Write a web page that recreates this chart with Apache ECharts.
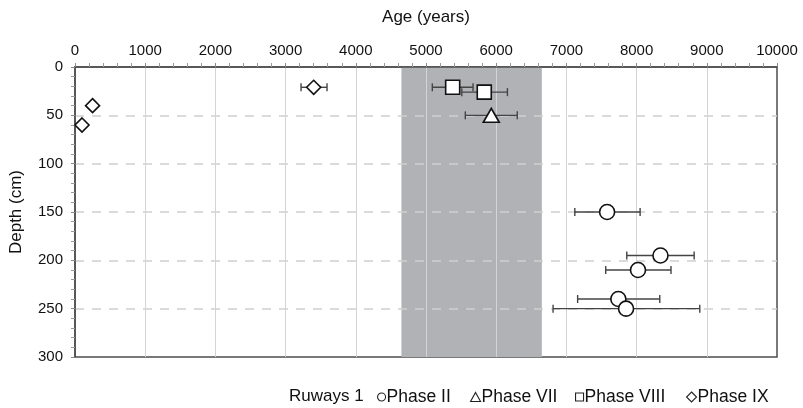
<!DOCTYPE html>
<html><head><meta charset="utf-8">
<script src="https://cdn.jsdelivr.net/npm/echarts@6/dist/echarts.min.js"></script>
<style>html,body{margin:0;padding:0;background:#fff}#c{width:803px;height:408px}</style>
</head><body><div id="c"></div>
<script>
// Phase II
const phaseIIAge = [7580, 8340, 8020, 7740, 7850];
const phaseIIDepth = [150, 195, 210, 240, 250];
const phaseIILow = [7120, 7860, 7560, 7160, 6810];
const phaseIIHigh = [8050, 8820, 8490, 8330, 8900];
// Phase VII
const phaseVIIAge = [5930];
const phaseVIIDepth = [50];
const phaseVIILow = [5560];
const phaseVIIHigh = [6300];
// Phase VIII
const phaseVIIIAge = [5380, 5830];
const phaseVIIIDepth = [21, 26];
const phaseVIIILow = [5090, 5510];
const phaseVIIIHigh = [5670, 6160];
// Phase IX
const phaseIXAge = [3400, 250, 100];
const phaseIXDepth = [21, 40, 60];
const phaseIXLow = [3220, null, null];
const phaseIXHigh = [3590, null, null];
// Shaded band (age range)
const bandRange = [4650, 6650];
const xTicks = [0, 10000, 1000];
const yTicks = [0, 300, 50];
const seriesNames = ['Phase II', 'Phase VII', 'Phase VIII', 'Phase IX'];
const legendTitle = 'Ruways 1';

function pts(a, d) { return a.map((v, i) => [v, d[i]]); }
function errs(lo, hi, d) {
  const out = [];
  lo.forEach((v, i) => { if (v != null) out.push([v, hi[i], d[i]]); });
  return out;
}
const errData = [].concat(
  errs(phaseIILow, phaseIIHigh, phaseIIDepth),
  errs(phaseVIILow, phaseVIIHigh, phaseVIIDepth),
  errs(phaseVIIILow, phaseVIIIHigh, phaseVIIIDepth),
  errs(phaseIXLow, phaseIXHigh, phaseIXDepth)
);

const font = 'Liberation Sans, Arial, sans-serif';
const markerStyle = { color: '#fff', borderColor: '#111', borderWidth: 1.6, opacity: 1 };
const legendIcon = { color: '#fff', borderColor: '#222', borderWidth: 1.1 };
const icons = ['circle', 'triangle', 'rect', 'diamond'];
const legendLeft = [377, 470, 575, 686];
const iconSize = [[8, 8], [10, 9], [8, 8], [10, 10]];
const legends = seriesNames.map((n, i) => ({
  left: legendLeft[i], top: 388, padding: 0, itemWidth: iconSize[i][0], itemHeight: iconSize[i][1],
  textStyle: { fontFamily: font, fontSize: 17.5, color: '#111', padding: [0, 0, 0, -4] },
  data: [{ name: n, icon: icons[i], itemStyle: legendIcon }]
}));

const chart = echarts.init(document.getElementById('c'), null, { renderer: 'canvas' });
chart.setOption({
  animation: false,
  backgroundColor: '#fff',
  textStyle: { fontFamily: font },
  grid: { left: 74.5, right: 26, top: 67, bottom: 51, show: true, borderColor: '#4d4d4d', borderWidth: 1.5, backgroundColor: 'transparent' },
  title: { text: legendTitle, left: 289, top: 388, padding: 0, textStyle: { fontFamily: font, fontSize: 17, fontWeight: 'normal', color: '#111' } },
  legend: legends,
  xAxis: {
    type: 'value', position: 'top', min: xTicks[0], max: xTicks[1], interval: xTicks[2], z: 3,
    name: 'Age (years)', nameLocation: 'middle', nameGap: 41,
    nameTextStyle: { fontFamily: font, fontSize: 17, color: '#111' },
    axisLine: { show: true, lineStyle: { color: '#4d4d4d', width: 1.5 } },
    axisTick: { show: true, length: 4, lineStyle: { color: '#888' } },
    minorTick: { show: true, splitNumber: 5, length: 4, lineStyle: { color: '#999' } },
    axisLabel: { fontFamily: font, fontSize: 15, color: '#111', margin: 9, formatter: v => String(v) },
    splitLine: { show: true, showMinLine: false, showMaxLine: false, lineStyle: { color: '#d4d4d4', width: 1 } }
  },
  yAxis: {
    type: 'value', inverse: true, min: yTicks[0], max: yTicks[1], interval: yTicks[2], z: 3,
    name: 'Depth (cm)', nameLocation: 'middle', nameGap: 50, nameRotate: 90,
    nameTextStyle: { fontFamily: font, fontSize: 17, color: '#111' },
    axisLine: { show: true, lineStyle: { color: '#4d4d4d', width: 1.5 } },
    axisTick: { show: true, length: 4, lineStyle: { color: '#888' } },
    minorTick: { show: true, splitNumber: 5, length: 4, lineStyle: { color: '#999' } },
    axisLabel: { fontFamily: font, fontSize: 15, color: '#111', margin: 12, formatter: v => String(v) },
    splitLine: { show: true, showMinLine: false, showMaxLine: false, lineStyle: { color: '#d0d0d0', width: 1.5, type: [9, 8] } }
  },
  series: [
    {
      type: 'custom', name: 'band', z: 1, silent: true,
      data: [[bandRange[0], bandRange[1]]],
      renderItem: function (params, api) {
        const p0 = api.coord([api.value(0), yTicks[0]]);
        const p1 = api.coord([api.value(1), yTicks[1]]);
        return { type: 'rect', shape: { x: p0[0], y: p0[1], width: p1[0] - p0[0], height: p1[1] - p0[1] }, style: { fill: '#b1b2b6' } };
      }
    },
    {
      type: 'custom', name: 'err', z: 4, silent: true,
      data: errData,
      renderItem: function (params, api) {
        const a = api.coord([api.value(0), api.value(2)]);
        const b = api.coord([api.value(1), api.value(2)]);
        const h = 4;
        const st = { stroke: '#444', lineWidth: 1.4 };
        return { type: 'group', children: [
          { type: 'line', shape: { x1: a[0], y1: a[1], x2: b[0], y2: b[1] }, style: st },
          { type: 'line', shape: { x1: a[0], y1: a[1] - h, x2: a[0], y2: a[1] + h }, style: st },
          { type: 'line', shape: { x1: b[0], y1: b[1] - h, x2: b[0], y2: b[1] + h }, style: st }
        ] };
      }
    },
    { type: 'scatter', name: seriesNames[0], z: 5, symbol: 'circle', symbolSize: 15, data: pts(phaseIIAge, phaseIIDepth), itemStyle: markerStyle },
    { type: 'scatter', name: seriesNames[1], z: 5, symbol: 'triangle', symbolSize: [16, 14], data: pts(phaseVIIAge, phaseVIIDepth), itemStyle: markerStyle },
    { type: 'scatter', name: seriesNames[2], z: 5, symbol: 'rect', symbolSize: 14, data: pts(phaseVIIIAge, phaseVIIIDepth), itemStyle: markerStyle },
    { type: 'scatter', name: seriesNames[3], z: 5, symbol: 'diamond', symbolSize: 14, data: pts(phaseIXAge, phaseIXDepth), itemStyle: markerStyle }
  ]
});
</script></body></html>
